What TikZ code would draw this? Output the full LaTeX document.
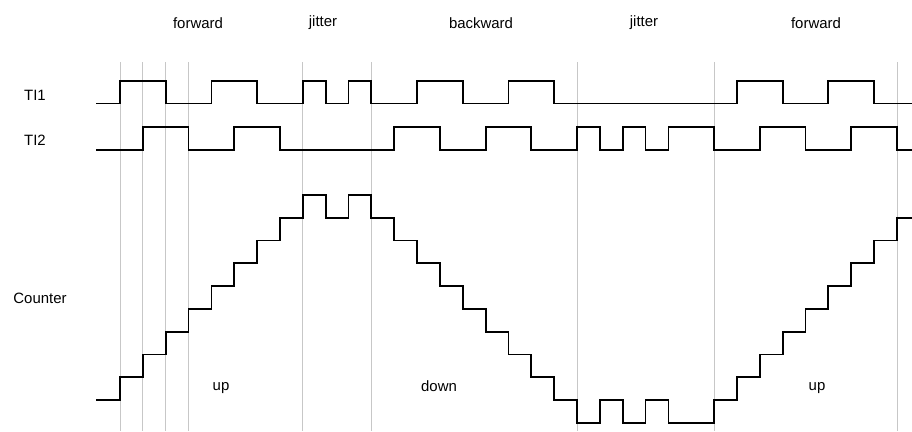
\documentclass[tikz,border=0pt]{standalone}
\usepackage{fontspec}
\setmainfont{Liberation Sans}
\begin{document}
\begin{tikzpicture}[x=1bp,y=-1bp,
  sig/.style={line width=1.8bp,black,line join=miter},
  grid/.style={line width=0.8bp,black!22},
  lbl/.style={font=\fontsize{15}{17}\selectfont,inner sep=0}]
\useasboundingbox (0,0) rectangle (912,431);
\def\u{22.85}
% grey guide lines
\foreach \k in {0,1,2,3,8,11,20,26,34}
  \draw[grid] (120+\k*\u,62) -- (120+\k*\u,431);
% TI1: high 81, low 103.5
\def\H{81}\def\L{103.5}
\draw[sig] (96,\L)
  \foreach \a/\b in {0/2,4/6,8/9,10/11,13/15,17/19,27/29,31/33}
   { -| (120+\a*\u,\H) -| (120+\b*\u,\L) } -- (912,\L);
% TI2: high 127, low 150
\def\H{127}\def\L{150}
\draw[sig] (96,\L)
  \foreach \a/\b in {1/3,5/7,12/14,16/18,20/21,22/23,24/26,28/30,32/34}
   { -| (120+\a*\u,\H) -| (120+\b*\u,\L) } -- (912,\L);
% Counter
\def\z{400}\def\s{22.8}
\draw[sig] (96,\z)
  \foreach \k/\lv in {0/1,1/2,2/3,3/4,4/5,5/6,6/7,7/8,8/9,9/8,10/9,11/8,12/7,13/6,14/5,15/4,16/3,17/2,18/1,19/0,20/-1,21/0,22/-1,23/0,24/-1,26/0,27/1,28/2,29/3,30/4,31/5,32/6,33/7,34/8}
   { -| (120+\k*\u,\z-\lv*\s) }
  -- (912,\z-8*\s);
% labels
\node[lbl] (f1) at (198,23) {forward};
\node[lbl] (j1) at (323,23) {jitter};
\node[lbl] (b1) at (481,23) {backward};
\node[lbl] (j2) at (644,23) {jitter};
\node[lbl] (f2) at (816,23) {forward};
\node[lbl] (t1) at (35,95) {TI1};
\node[lbl] (t2) at (35,140) {TI2};
\node[lbl] (c) at (40,298) {Counter};
\node[lbl] (u1) at (221,388) {up};
\node[lbl] (d) at (439,386) {down};
\node[lbl] (u2) at (817,388) {up};
\end{tikzpicture}
\end{document}
